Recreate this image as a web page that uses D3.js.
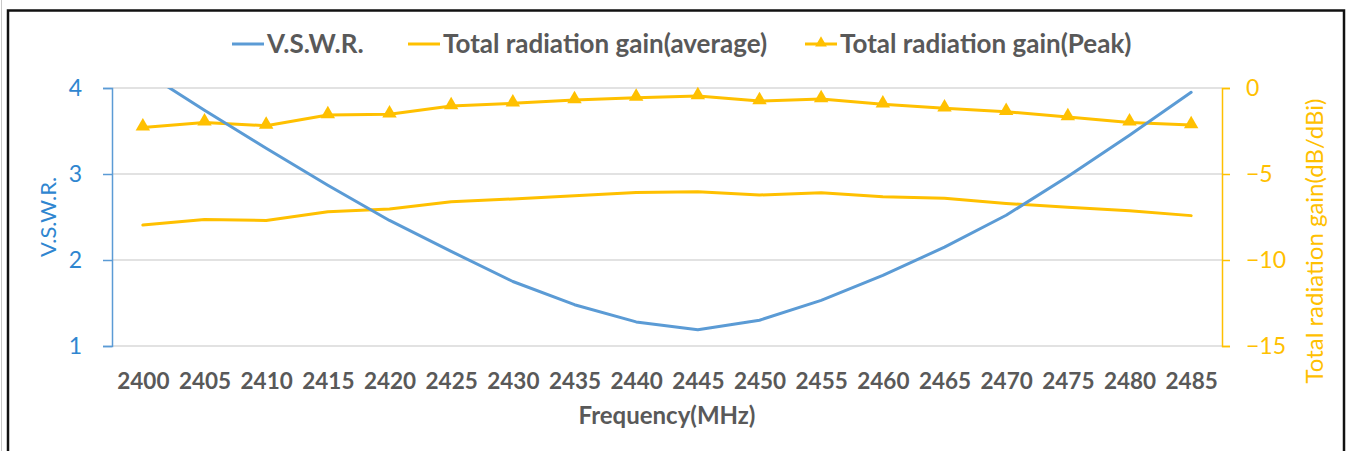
<!DOCTYPE html>
<html>
<head>
<meta charset="utf-8">
<script src="https://cdn.jsdelivr.net/npm/d3@7"></script>
<style>
  html, body { margin: 0; padding: 0; background: #ffffff; }
  svg text { font-family: Lato, "Open Sans", sans-serif; }
</style>
</head>
<body>
<svg id="chart" width="1349" height="451"></svg>
<script>
const categories = ["2400","2405","2410","2415","2420","2425","2430","2435","2440","2445","2450","2455","2460","2465","2470","2475","2480","2485"];
const vswr = [4.20, 3.74, 3.30, 2.87, 2.46, 2.10, 1.75, 1.48, 1.28, 1.19, 1.30, 1.53, 1.82, 2.15, 2.52, 2.97, 3.45, 3.95];
const gainAverage = [-7.97, -7.64, -7.70, -7.19, -7.03, -6.61, -6.45, -6.26, -6.07, -6.03, -6.22, -6.09, -6.32, -6.41, -6.71, -6.94, -7.13, -7.42];
const gainPeak = [-2.29, -2.00, -2.19, -1.57, -1.53, -1.05, -0.89, -0.70, -0.56, -0.47, -0.76, -0.64, -0.95, -1.18, -1.38, -1.69, -2.00, -2.15];
const leftTicks = [1, 2, 3, 4];
const rightTicks = [-15, -10, -5, 0];
const seriesNames = ["V.S.W.R.", "Total radiation gain(average)", "Total radiation gain(Peak)"];

(function () {
const BLUE = "#5b9bd5", GOLD = "#ffc000", GRID = "#d9d9d9", TEXT = "#595959", LBLUE = "#2f86d0";
const svg = d3.select("#chart");

// frame
svg.append("line").attr("x1", 1.5).attr("x2", 1.5).attr("y1", 0).attr("y2", 451).attr("stroke", "#c8c8c8").attr("stroke-width", 1);
svg.append("rect").attr("x", 8).attr("y", 10.5).attr("width", 1336).attr("height", 460)
  .attr("fill", "none").attr("stroke", "#111").attr("stroke-width", 2.5);

const pL = 112, pR = 1222, pT = 88, pB = 346;
const x = d3.scalePoint().domain(categories).range([pL, pR]).padding(0.5);
const yL = d3.scaleLinear().domain([1, 4]).range([pB, pT]);
const yR = d3.scaleLinear().domain([-15, 0]).range([pB, pT]);

// grid
svg.append("g").selectAll("line").data(leftTicks).join("line")
  .attr("x1", pL).attr("x2", pR).attr("y1", d => yL(d)).attr("y2", d => yL(d))
  .attr("stroke", GRID).attr("stroke-width", 1.3);

// left axis
const gL = svg.append("g").attr("transform", `translate(${pL},0)`)
  .call(d3.axisLeft(yL).tickValues(leftTicks).tickSize(9).tickPadding(21).tickFormat(d3.format("d")));
gL.select(".domain").attr("stroke", BLUE).attr("stroke-width", 1.5);
gL.selectAll(".tick line").attr("stroke", BLUE).attr("stroke-width", 1.5);
gL.selectAll(".tick text").attr("fill", LBLUE).style("font-size", "23px").style("font-family", "Lato");

// right axis
const gR = svg.append("g").attr("transform", `translate(${pR},0)`)
  .call(d3.axisRight(yR).tickValues(rightTicks).tickSize(8).tickPadding(16).tickFormat(d3.format("d")));
gR.select(".domain").attr("stroke", GOLD).attr("stroke-width", 1.5);
gR.selectAll(".tick line").attr("stroke", GOLD).attr("stroke-width", 1.5);
gR.selectAll(".tick text").attr("fill", GOLD).style("font-size", "23px").style("font-family", "Lato");

// x axis labels
const gX = svg.append("g").attr("transform", `translate(0,${pB})`)
  .call(d3.axisBottom(x).tickSize(0).tickPadding(27));
gX.select(".domain").remove();
gX.selectAll(".tick text").attr("fill", TEXT).style("font-size", "22.5px").style("font-weight", "bold").style("font-family", "Lato");

// axis titles
svg.append("text").attr("transform", `translate(${(pL + pR) / 2},${424})`)
  .attr("text-anchor", "middle").attr("fill", TEXT).style("font-size", "24px").style("font-weight", "bold")
  .text("Frequency(MHz)");
svg.append("text").attr("transform", `translate(56,${(pT + pB) / 2}) rotate(-90)`)
  .attr("text-anchor", "middle").attr("fill", LBLUE).style("font-size", "22px")
  .text("V.S.W.R.");
svg.append("text").attr("transform", `translate(1323,241) rotate(-90)`)
  .attr("text-anchor", "middle").attr("fill", GOLD).style("font-size", "24px")
  .text("Total radiation gain(dB/dBi)");

// clip
svg.append("clipPath").attr("id", "plotclip").append("rect")
  .attr("x", pL).attr("y", pT).attr("width", pR - pL).attr("height", pB - pT);

const lineL = d3.line().x((d, i) => x(categories[i])).y(d => yL(d));
const lineR = d3.line().x((d, i) => x(categories[i])).y(d => yR(d));

svg.append("path").datum(gainAverage).attr("d", lineR).attr("fill", "none")
  .attr("stroke", GOLD).attr("stroke-width", 3).attr("stroke-linejoin", "round").attr("stroke-linecap", "round");
svg.append("path").datum(gainPeak).attr("d", lineR).attr("fill", "none")
  .attr("stroke", GOLD).attr("stroke-width", 3).attr("stroke-linejoin", "round").attr("stroke-linecap", "round");
const tri = d3.symbol().type(d3.symbolTriangle).size(90);
svg.append("g").selectAll("path").data(gainPeak).join("path")
  .attr("d", tri).attr("fill", GOLD)
  .attr("transform", (d, i) => `translate(${x(categories[i])},${yR(d) - 1})`);
svg.append("path").datum(vswr).attr("d", lineL).attr("fill", "none").attr("clip-path", "url(#plotclip)")
  .attr("stroke", BLUE).attr("stroke-width", 3).attr("stroke-linejoin", "round").attr("stroke-linecap", "round");

// legend
const legendY = 44;
const legendItems = [
  { name: seriesNames[0], color: BLUE, marker: false, x0: 232 },
  { name: seriesNames[1], color: GOLD, marker: false, x0: 408 },
  { name: seriesNames[2], color: GOLD, marker: true, x0: 805 }
];
const lg = svg.append("g");
legendItems.forEach(it => {
  lg.append("line").attr("x1", it.x0).attr("x2", it.x0 + 32).attr("y1", legendY).attr("y2", legendY)
    .attr("stroke", it.color).attr("stroke-width", 3);
  if (it.marker) {
    lg.append("path").attr("d", d3.symbol().type(d3.symbolTriangle).size(60)).attr("fill", it.color)
      .attr("transform", `translate(${it.x0 + 16},${legendY - 1})`);
  }
  lg.append("text").attr("x", it.x0 + 35).attr("y", legendY).attr("dy", "0.35em")
    .attr("fill", TEXT).style("font-size", "26px").style("font-weight", "bold").text(it.name);
});
})();
</script>
</body>
</html>
